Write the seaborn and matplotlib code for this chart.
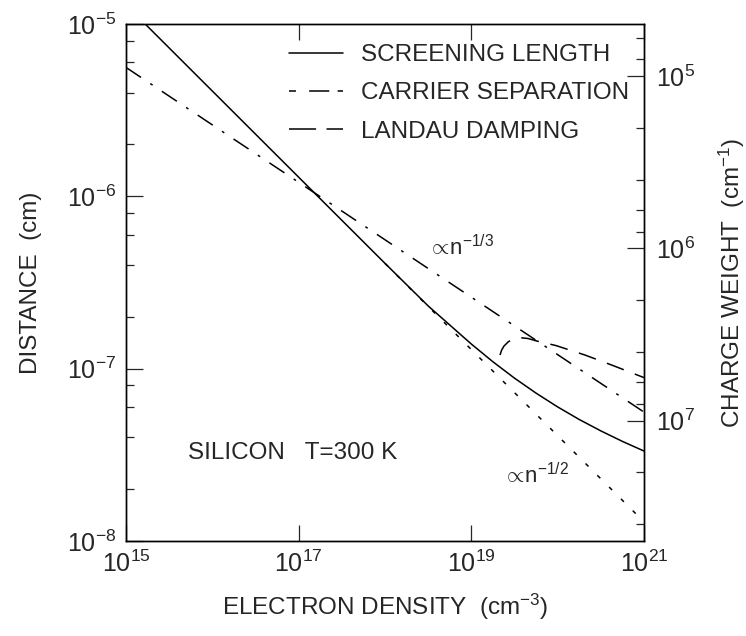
import matplotlib
matplotlib.use("Agg")
import matplotlib.pyplot as plt
import numpy as np
import pandas as pd
import seaborn as sns
from matplotlib.ticker import FixedLocator, LogLocator, NullLocator, NullFormatter, FuncFormatter

# ---- data: log10 of electron density (cm^-3) and log10 of distance (cm) ----
screen_log_n = [15.0, 16.0, 17.0, 18.0, 18.5, 19.0, 19.25, 19.5, 19.75, 20.0, 20.25, 20.5, 20.75, 21.0]
screen_log_d = [-4.889, -5.389, -5.889, -6.389, -6.636, -6.857, -6.960, -7.055, -7.142,
                -7.222, -7.295, -7.361, -7.422, -7.478]

debye_log_n = [18.0, 21.0]
debye_log_d = [-6.389, -7.889]

sep_log_n = [15.0, 21.0]
sep_log_d = [-5.252, -7.252]

landau_log_n = [19.332, 19.351, 19.378, 19.428, 19.494, 19.564, 19.657, 19.761, 19.981, 20.317, 20.626, 21.0]
landau_log_d = [-6.921, -6.892, -6.869, -6.844, -6.825, -6.820, -6.825, -6.840, -6.866, -6.921, -6.979, -7.052]

x_ticks = [1e15, 1e17, 1e19, 1e21]
y_ticks = [1e-8, 1e-7, 1e-6, 1e-5]
w_ticks = [1e5, 1e6, 1e7]

series_labels = ["SCREENING LENGTH", "CARRIER SEPARATION", "LANDAU DAMPING"]

sns.set_style("ticks")
plt.rcParams["font.family"] = ["Liberation Sans", "DejaVu Sans"]
plt.rcParams["mathtext.fontset"] = "custom"
plt.rcParams["mathtext.rm"] = "Liberation Sans"
plt.rcParams["mathtext.it"] = "Liberation Sans:italic"
plt.rcParams["mathtext.bf"] = "Liberation Sans:bold"
plt.rcParams["lines.scale_dashes"] = False
plt.rcParams["axes.linewidth"] = 1.0

fig = plt.figure(figsize=(7.46, 6.36), dpi=100)
ax = fig.add_axes([126 / 746, 1 - 541 / 636, 518 / 746, 517 / 636])

lw = 1.1
def pw(v):
    return [10.0 ** e for e in v]

sns.lineplot(x=pw(screen_log_n), y=pw(screen_log_d), ax=ax, color="black", lw=lw,
             label=series_labels[0], sort=False, estimator=None)
sns.lineplot(x=pw(sep_log_n), y=pw(sep_log_d), ax=ax, color="black", lw=lw,
             linestyle=(0, (13, 8, 2, 8)), label=series_labels[1], sort=False, estimator=None)
sns.lineplot(x=pw(landau_log_n), y=pw(landau_log_d), ax=ax, color="black", lw=lw,
             linestyle=(0, (13, 8.5)), label=series_labels[2], sort=False, estimator=None)
sns.lineplot(x=pw(debye_log_n), y=pw(debye_log_d), ax=ax, color="black", lw=lw,
             linestyle=(0, (3, 9)), legend=False, sort=False, estimator=None)

ax.set_xscale("log")
ax.set_yscale("log")
ax.set_xlim(1e15, 1e21)
ax.set_ylim(1e-8, 1e-5)

def pow_fmt(v, pos):
    e = int(round(np.log10(v)))
    return r"$10^{%d}$" % e

ax.xaxis.set_major_locator(FixedLocator(x_ticks))
ax.xaxis.set_minor_locator(NullLocator())
ax.xaxis.set_major_formatter(FuncFormatter(pow_fmt))
ax.yaxis.set_major_locator(FixedLocator(y_ticks))
ax.yaxis.set_minor_locator(LogLocator(base=10, subs=(2, 4, 6, 8)))
ax.yaxis.set_minor_formatter(NullFormatter())
ax.yaxis.set_major_formatter(FuncFormatter(pow_fmt))

tick_fs = 18
ax.tick_params(axis="x", which="major", direction="in", length=11.5, width=0.9,
               top=True, labelsize=tick_fs, pad=7)
ax.tick_params(axis="y", which="major", direction="in", length=12, width=0.9,
               right=False, labelsize=tick_fs, pad=7)
ax.tick_params(axis="y", which="minor", direction="in", length=6, width=0.9, right=False)

# charge weight axis on the right: w = 0.5 / d
ax2 = ax.twinx()
ax2.set_yscale("log")
ax2.set_ylim(0.5 / 1e-8, 0.5 / 1e-5)
ax2.yaxis.set_major_locator(FixedLocator(w_ticks))
ax2.yaxis.set_minor_locator(LogLocator(base=10, subs=(2, 4, 6, 8)))
ax2.yaxis.set_minor_formatter(NullFormatter())
ax2.yaxis.set_major_formatter(FuncFormatter(pow_fmt))
ax2.tick_params(axis="y", which="major", direction="in", length=12, width=0.9,
                labelsize=tick_fs, pad=9)
ax2.tick_params(axis="y", which="minor", direction="in", length=6, width=0.9)

for a in (ax, ax2):
    for s in a.spines.values():
        s.set_visible(True)
        s.set_linewidth(1.0)
        s.set_color("black")

label_fs = 17.5
ax.set_xlabel("ELECTRON DENSITY  (cm$^{-3}$)", fontsize=label_fs)
ax.set_ylabel("DISTANCE  (cm)", fontsize=label_fs)
ax2.set_ylabel("CHARGE WEIGHT  (cm$^{-1}$)", fontsize=label_fs)
ax.xaxis.set_label_coords(0.5, -0.098)
ax.yaxis.set_label_coords(-0.163, 0.5)
ax2.yaxis.set_label_coords(1.140, 0.5)

# annotations
ax.text(10 ** 18.498, 10 ** -6.341, r"$\propto\!\mathrm{n}^{-1/3}$", fontsize=16, ha="left", va="baseline")
ax.text(10 ** 19.367, 10 ** -7.664, r"$\propto\!\mathrm{n}^{-1/2}$", fontsize=16, ha="left", va="baseline")
ax.text(10 ** 15.718, 10 ** -7.525, "SILICON   T=300 K", fontsize=label_fs, ha="left", va="baseline")

leg = ax.legend(loc="upper left", bbox_to_anchor=(289 / 746, 1 - 44 / 636),
                bbox_transform=fig.transFigure, frameon=False, fontsize=label_fs,
                handlelength=2.22, handletextpad=0.74, labelspacing=0.67,
                borderpad=0, borderaxespad=0)
hl = leg.get_lines()
hl[1].set_linestyle((0, (5, 9.5, 14.5, 6)))
hl[2].set_linestyle((0, (19.5, 7.5)))

fig.savefig("out.png", dpi=100, facecolor="white")
